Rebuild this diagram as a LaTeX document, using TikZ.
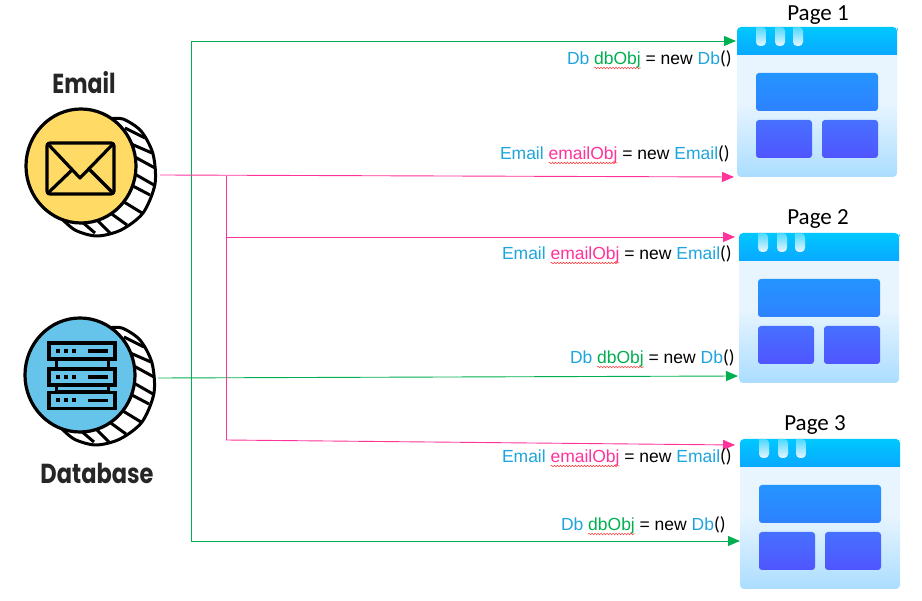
\documentclass[tikz,border=0pt]{standalone}
\usepackage{fontspec}
\setmainfont{Liberation Sans}
\newfontfamily\pagefont{Carlito}
\newfontfamily\iconfont{Poppins}
\usetikzlibrary{arrows.meta,calc,decorations.pathmorphing,shapes.geometric}
\definecolor{typeblue}{HTML}{1FA5DE}
\definecolor{dbgreen}{HTML}{00B050}
\definecolor{emailpink}{HTML}{FF3399}
\definecolor{coinyellow}{HTML}{FFDB66}
\definecolor{coinblue}{HTML}{66C3EA}
\definecolor{bodylight}{HTML}{E8F5FF}
\definecolor{bodydark}{HTML}{ABDDFF}
\definecolor{headtop}{HTML}{00C8FF}
\definecolor{headbottom}{HTML}{0AA8FF}
\definecolor{widetop}{HTML}{2494FF}
\definecolor{widebottom}{HTML}{2E82FF}
\definecolor{smalltop}{HTML}{4770FF}
\definecolor{smallbottom}{HTML}{5055FF}
\tikzset{
  link/.style={line width=0.9pt,-{Triangle[length=12pt,width=10pt]}},
  bareline/.style={line width=0.9pt},
  codetext/.style={inner sep=0pt,outer sep=0pt,font=\fontsize{17.5}{20}\selectfont,anchor=base west},
  squiggle/.style={red!80!white,line width=0.5pt,decorate,decoration={snake,amplitude=0.8pt,segment length=3pt}},
  coinline/.style={black,line width=3pt},
  pagetitle/.style={font=\pagefont\fontsize{23}{26}\selectfont,inner sep=0pt},
  iconlabel/.style={font=\iconfont\bfseries\fontsize{25}{28}\selectfont,text=black!85,inner sep=0pt},
  innerbox/.style={rounded corners=3pt}
}
% one line of code above an arrow
\newcommand{\objline}[5]{
  \node[codetext,text=typeblue] (#1type) at (#2) {#3};
  \node[codetext,text=#5,xshift=4.8pt] (#1var) at (#1type.base east) {#4};
  \draw[squiggle] ($(#1var.base west)+(0,3)$) -- ($(#1var.base east)+(0,3)$);
  \node[codetext,xshift=4.8pt] (#1new) at (#1var.base east) {= new};
  \node[codetext,text=typeblue,xshift=4.8pt] (#1ctor) at (#1new.base east) {#3};
  \node[codetext,font=\pagefont\fontsize{19}{20}\selectfont] (#1par) at (#1ctor.base east) {()};
}
% coin with striped edge
\newcommand{\coin}[3]{
  \draw[coinline,fill=white,line join=round]
    plot[smooth] coordinates {($(#2)+(28,-47)$) ($(#2)+(42,-47)$) ($(#2)+(60,-35)$) ($(#2)+(72,-12)$) ($(#2)+(74,18)$)
      ($(#2)+(62,47)$) ($(#2)+(40,64)$) ($(#2)+(16,70)$) ($(#2)+(-6,64)$) ($(#2)+(-22,50)$)};
  \foreach \xa/\ya/\xb/\yb in {44/-38/64/-28,48/-23/71/-13,52/-10/74/2,52/7/73/19,50/19/69/29,43/36/61/47,28/46/46/59,15/53/29/67,0/55/14/67}
    \draw[black,line width=3pt] ($(#2)+(\xa,\ya)$) -- ($(#2)+(\xb,\yb)$);
  \node[ellipse,draw=black,line width=3.2pt,fill=#3,minimum width=110pt,minimum height=114pt,inner sep=0pt] (#1) at (#2) {};
}
% page icon, #2 is its top left corner
\newcommand{\pageicon}[2]{
  \begin{scope}[shift={(#2)}]
    \node[rectangle,rounded corners=4pt,minimum width=160pt,minimum height=150pt,inner sep=0pt,
      top color=bodylight,bottom color=bodydark,middle color=bodylight] (#1) at (80,75) {};
    \shade[top color=headtop,bottom color=headbottom,rounded corners=4pt]
      (0,28) [sharp corners] -- (0,4) [rounded corners=4pt] -- (0,0) -- (160,0) -- (160,4) [sharp corners] -- (160,28) -- cycle;
    \foreach \nx in {19,38,56}
      \shade[top color=headtop!70!white,bottom color=bodylight,rounded corners=4pt]
        (\nx,0) -- (\nx,19) -- (\nx+10,19) -- (\nx+10,0) [sharp corners] -- cycle;
    \shade[innerbox,top color=widetop,bottom color=widebottom] (19,46) rectangle (141,84);
    \shade[innerbox,top color=smalltop,bottom color=smallbottom] (19,93) rectangle (75,131);
    \shade[innerbox,top color=smalltop,bottom color=smallbottom] (85,93) rectangle (141,131);
  \end{scope}
}
\begin{document}
\begin{tikzpicture}[x=1pt,y=-1pt]
\useasboundingbox (0,0) rectangle (922,601);

\pageicon{pageone}{737,27}
\pageicon{pagetwo}{739,233}
\pageicon{pagethree}{740,439}
\node[pagetitle] (pageonetitle) at (818,15) {Page 1};
\node[pagetitle] (pagetwotitle) at (818,219) {Page 2};
\node[pagetitle] (pagethreetitle) at (815,425) {Page 3};

\coin{emailcoin}{81,166}{coinyellow}
\coin{dbcoin}{80,375}{coinblue}
\node[iconlabel] (emaillabel) at (84,83) {\scalebox{0.88}[1.1]{Email}};
\node[iconlabel] (dblabel) at (97,473) {\scalebox{0.9}[1.1]{Database}};

% envelope
\begin{scope}[shift={(81,166)},black,line width=3.2pt,line join=round]
  \draw[rounded corners=3pt] (-34,-23) rectangle (33,28);
  \draw (-34,-23) -- (-1,12) -- (33,-23);
  \draw (-34,28) -- (-9,4) (33,28) -- (9,4);
\end{scope}

% server
\begin{scope}[shift={(80,375)},black]
  \fill[coinblue,draw=black,line width=3pt] (-24,-15) rectangle (28,17);
  \foreach \rowy in {-24,2,25.5} {
    \draw[fill=coinblue,line width=3.2pt] (-31,\rowy-8) rectangle (35,\rowy+8);
    \foreach \dotx in {-22,-14,-6}
      \fill (\dotx-2,\rowy-2) rectangle (\dotx+2,\rowy+2);
    \fill (8,\rowy-1.8) rectangle (28,\rowy+1.8);
  }
\end{scope}

\coordinate (emailout) at (160,175);
\coordinate (emailjoin) at (226,176);
\coordinate (emailturntwo) at (226,237);
\coordinate (emailturnthree) at (226,440);
\coordinate (dbout) at (158,378);
\coordinate (dbjoin) at (191,378);
\coordinate (dbturnone) at (191,41);
\coordinate (dbturnthree) at (191,541);
\coordinate (pageonedb) at (736,41);
\coordinate (pageoneemail) at (734,177);
\coordinate (pagetwoemail) at (735,237);
\coordinate (pagetwodb) at (738,376);
\coordinate (pagethreeemail) at (735,445);
\coordinate (pagethreedb) at (740,541);

\draw[bareline,dbgreen] (dbturnone) -- (dbturnthree);
\draw[link,dbgreen] (dbturnone) -- (pageonedb);
\draw[link,dbgreen] (dbturnthree) -- (pagethreedb);
\draw[link,dbgreen] (dbout) -- (pagetwodb);

\draw[bareline,emailpink] (emailjoin) -- (emailturnthree);
\draw[link,emailpink] (emailout) -- (pageoneemail);
\draw[link,emailpink] (emailturntwo) -- (pagetwoemail);
\draw[link,emailpink] (emailturnthree) -- (pagethreeemail);

\objline{dbone}{567,65}{Db}{dbObj}{dbgreen}
\objline{emailone}{500,160}{Email}{emailObj}{emailpink}
\objline{emailtwo}{502,260}{Email}{emailObj}{emailpink}
\objline{dbtwo}{570,364}{Db}{dbObj}{dbgreen}
\objline{emailthree}{502,463}{Email}{emailObj}{emailpink}
\objline{dbthree}{561,531}{Db}{dbObj}{dbgreen}
\end{tikzpicture}
\end{document}
